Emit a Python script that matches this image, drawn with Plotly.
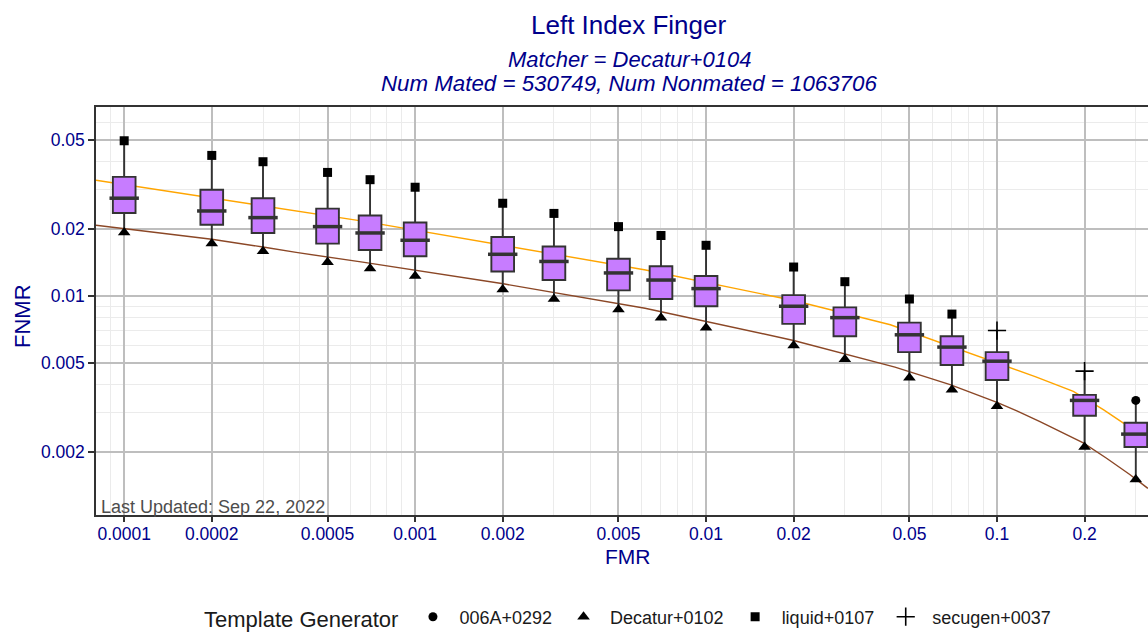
import numpy as np
import plotly.graph_objects as go

# ---------------- data ----------------
fmr = [0.0001, 0.0002, 0.0003, 0.0005, 0.0007, 0.001, 0.002, 0.003, 0.005,
       0.007, 0.01, 0.02, 0.03, 0.05, 0.07, 0.1, 0.2, 0.3]
box_q3 = [0.0343, 0.0300, 0.0275, 0.0247, 0.0230, 0.0214, 0.0184, 0.0167, 0.0147,
          0.0136, 0.0123, 0.0101, 0.0089, 0.0076, 0.0066, 0.0056, 0.0036, 0.0027]
box_median = [0.0275, 0.0241, 0.0225, 0.0205, 0.0192, 0.0178, 0.0154, 0.0143, 0.0127,
              0.0118, 0.0108, 0.0090, 0.0080, 0.0067, 0.0059, 0.0051, 0.0034, 0.0024]
box_q1 = [0.0236, 0.0209, 0.0192, 0.0172, 0.0161, 0.0151, 0.0129, 0.0118, 0.0106,
          0.0097, 0.0090, 0.0075, 0.0066, 0.0056, 0.0049, 0.0042, 0.0029, 0.0021]

# template generator points (extremes at each FMR)
gen_006a_fmr = [0.3]
gen_006a_fnmr = [0.0034]
gen_decatur_fmr = fmr
gen_decatur_fnmr = [0.0193, 0.0172, 0.0159, 0.0142, 0.0133, 0.0123, 0.0107, 0.0097, 0.0087,
                    0.0080, 0.0072, 0.0060, 0.0052, 0.0043, 0.0038, 0.0032, 0.0021, 0.0015]
gen_liquid_fmr = fmr[:15]
gen_liquid_fnmr = [0.0498, 0.0428, 0.0401, 0.0359, 0.0333, 0.0308, 0.0261, 0.0235, 0.0205,
                   0.0187, 0.0169, 0.0135, 0.0116, 0.0097, 0.0083]
gen_secugen_fmr = [0.1, 0.2]
gen_secugen_fnmr = [0.0070, 0.0046]

# reference DET curves
orange_fmr = [8.0e-5, 6.6e-4, 0.0062, 0.020, 0.043, 0.100, 0.136, 0.183, 0.232, 0.272, 0.330]
orange_fnmr = [0.0331, 0.0217, 0.0131, 0.00955, 0.00743, 0.00500, 0.00434, 0.00373,
               0.00309, 0.00269, 0.00219]
brown_fmr = [8.0e-5, 1.04e-4, 2.0e-4, 3.0e-4, 3.9e-4, 6.6e-4, 0.00201, 0.00617, 0.0200,
             0.0446, 0.069, 0.100, 0.117, 0.1405, 0.198, 0.238, 0.286, 0.330]
brown_fnmr = [0.0208, 0.0200, 0.0180, 0.0166, 0.0157, 0.0142, 0.01135, 0.00882, 0.00632,
              0.0048, 0.0040, 0.00333, 0.00305, 0.00273, 0.00219, 0.00187, 0.00158, 0.00137]

x_tickvals = [0.0001, 0.0002, 0.0005, 0.001, 0.002, 0.005, 0.01, 0.02, 0.05, 0.1, 0.2]
x_ticktext = ["0.0001", "0.0002", "0.0005", "0.001", "0.002", "0.005", "0.01", "0.02",
              "0.05", "0.1", "0.2"]
y_tickvals = [0.002, 0.005, 0.01, 0.02, 0.05]
y_ticktext = ["0.002", "0.005", "0.01", "0.02", "0.05"]

# whisker ends from generator extremes
pts = {}
for xs, ys in [(gen_006a_fmr, gen_006a_fnmr), (gen_decatur_fmr, gen_decatur_fnmr),
               (gen_liquid_fmr, gen_liquid_fnmr), (gen_secugen_fmr, gen_secugen_fnmr)]:
    for xv, yv in zip(xs, ys):
        pts.setdefault(xv, []).append(yv)
upper = [max(pts[xv]) for xv in fmr]
lower = [min(pts[xv]) for xv in fmr]

# ---------------- layout helpers ----------------
W, H = 1148, 633
ML, MT, MR, MB = 96, 107, 0, 118
PW, PH = W - ML - MR, H - MT - MB
def px_x(p):  # window pixel -> paper x
    return (p - ML) / PW
def px_y(p):  # window pixel -> paper y
    return (H - MB - p) / PH

x_lo, x_hi = np.log10(8.0e-5), np.log10(0.3304)
y_lo, y_hi = np.log10(0.00104), np.log10(0.0706)

NAVY = "#00008B"
FONT = "Liberation Sans, Arial, sans-serif"

fig = go.Figure()

# DET curves (under boxes)
fig.add_trace(go.Scatter(x=orange_fmr, y=orange_fnmr, mode="lines",
                         line=dict(color="#FFA500", width=1.4),
                         showlegend=False, hoverinfo="skip"))
fig.add_trace(go.Scatter(x=brown_fmr, y=brown_fnmr, mode="lines",
                         line=dict(color="#8B4726", width=1.4),
                         showlegend=False, hoverinfo="skip"))

lfmr = np.log10(fmr)
fig.add_trace(go.Box(x=lfmr, q1=box_q1, median=box_median, q3=box_q3,
                     lowerfence=lower, upperfence=upper,
                     xaxis="x2", yaxis="y", width=0.078, whiskerwidth=0,
                     fillcolor="#C77CFF", line=dict(color="#333333", width=1.9),
                     boxpoints=False, showlegend=False, hoverinfo="skip"))
fig.add_trace(go.Scatter(x=lfmr, y=box_median, xaxis="x2", yaxis="y", mode="markers",
                         marker=dict(symbol="line-ew", size=21,
                                     line=dict(width=3.5, color="#333333")),
                         showlegend=False, hoverinfo="skip"))

gens = [
    ("006A+0292", gen_006a_fmr, gen_006a_fnmr, dict(symbol="circle", size=9, color="black")),
    ("Decatur+0102", gen_decatur_fmr, gen_decatur_fnmr, dict(symbol="triangle-up", size=11, color="black")),
    ("liquid+0107", gen_liquid_fmr, gen_liquid_fnmr, dict(symbol="square", size=9, color="black")),
    ("secugen+0037", gen_secugen_fmr, gen_secugen_fnmr,
     dict(symbol="cross-thin", size=13, color="black", line=dict(width=1.6, color="black"))),
]
for name, xs, ys, mk in gens:
    fig.add_trace(go.Scatter(x=np.log10(xs), y=ys, xaxis="x2", yaxis="y", mode="markers",
                             name=name, marker=mk, hoverinfo="skip"))

minor_x = [m * 10.0 ** e for e in range(-5, 0) for m in (3, 4, 6, 7, 8, 9)]
minor_y = [m * 10.0 ** e for e in range(-3, -1) for m in (3, 4, 6, 7, 8, 9)] + [0.06, 0.07]

fig.update_layout(
    width=W, height=H,
    margin=dict(l=ML, r=MR, t=MT, b=MB, autoexpand=False),
    paper_bgcolor="white", plot_bgcolor="white",
    font=dict(family=FONT, color=NAVY),
    xaxis=dict(type="log", range=[x_lo, x_hi], tickvals=x_tickvals, ticktext=x_ticktext,
               ticks="outside", ticklen=5, tickwidth=1.5, tickcolor="#333333",
               tickfont=dict(size=17.5, color=NAVY), ticklabelstandoff=-3,
               showline=True, linecolor="#333333", linewidth=1.5, mirror=True,
               showgrid=True, gridcolor="#BEBEBE", gridwidth=1.5, zeroline=False,
               minor=dict(tickvals=minor_x, showgrid=True, gridcolor="#EBEBEB",
                          gridwidth=1, ticks="")),
    xaxis2=dict(overlaying="x", range=[x_lo, x_hi], visible=False, type="linear"),
    yaxis=dict(type="log", range=[y_lo, y_hi], tickvals=y_tickvals, ticktext=y_ticktext,
               ticks="outside", ticklen=6, tickwidth=1.5, tickcolor="#333333",
               tickfont=dict(size=17.5, color=NAVY),
               showline=True, linecolor="#333333", linewidth=1.5, mirror=False,
               showgrid=True, gridcolor="#BEBEBE", gridwidth=1.5, zeroline=False,
               minor=dict(tickvals=minor_y, showgrid=True, gridcolor="#EBEBEB",
                          gridwidth=1, ticks="")),
    showlegend=True,
    legend=dict(orientation="h", x=px_x(629), xanchor="center", y=px_y(618), yanchor="middle",
                itemwidth=43,
                title=dict(text="Template Generator", side="left",
                           font=dict(size=22, color="#1A1A1A")),
                font=dict(size=18, color="#1A1A1A"), bgcolor="rgba(0,0,0,0)"),
    annotations=[
        dict(text="Left Index Finger", x=px_x(628), y=px_y(25), xref="paper", yref="paper",
             xanchor="center", yanchor="middle", showarrow=False,
             font=dict(size=26, color=NAVY)),
        dict(text="<i>Matcher = Decatur+0104</i>", x=px_x(629), y=px_y(60), xref="paper",
             yref="paper", xanchor="center", yanchor="middle", showarrow=False,
             font=dict(size=22, color=NAVY)),
        dict(text="<i>Num Mated = 530749, Num Nonmated = 1063706</i>", x=px_x(629), y=px_y(83),
             xref="paper", yref="paper", xanchor="center", yanchor="middle", showarrow=False,
             font=dict(size=22.3, color=NAVY)),
        dict(text="FMR", x=px_x(628), y=px_y(556), xref="paper", yref="paper",
             xanchor="center", yanchor="middle", showarrow=False,
             font=dict(size=21, color=NAVY)),
        dict(text="FNMR", x=px_x(22), y=px_y(316), xref="paper", yref="paper",
             xanchor="center", yanchor="middle", showarrow=False, textangle=-90,
             font=dict(size=22, color=NAVY)),
        dict(text="Last Updated: Sep 22, 2022", x=px_x(99), y=px_y(519), xref="paper",
             yref="paper", xanchor="left", yanchor="bottom", showarrow=False,
             font=dict(size=18, color="#4D4D4D")),
    ],
)

fig.write_html(
    "out.html",
    config={"displayModeBar": False},
    post_script="document.body.style.margin='0px';document.body.style.overflow='hidden';",
)
